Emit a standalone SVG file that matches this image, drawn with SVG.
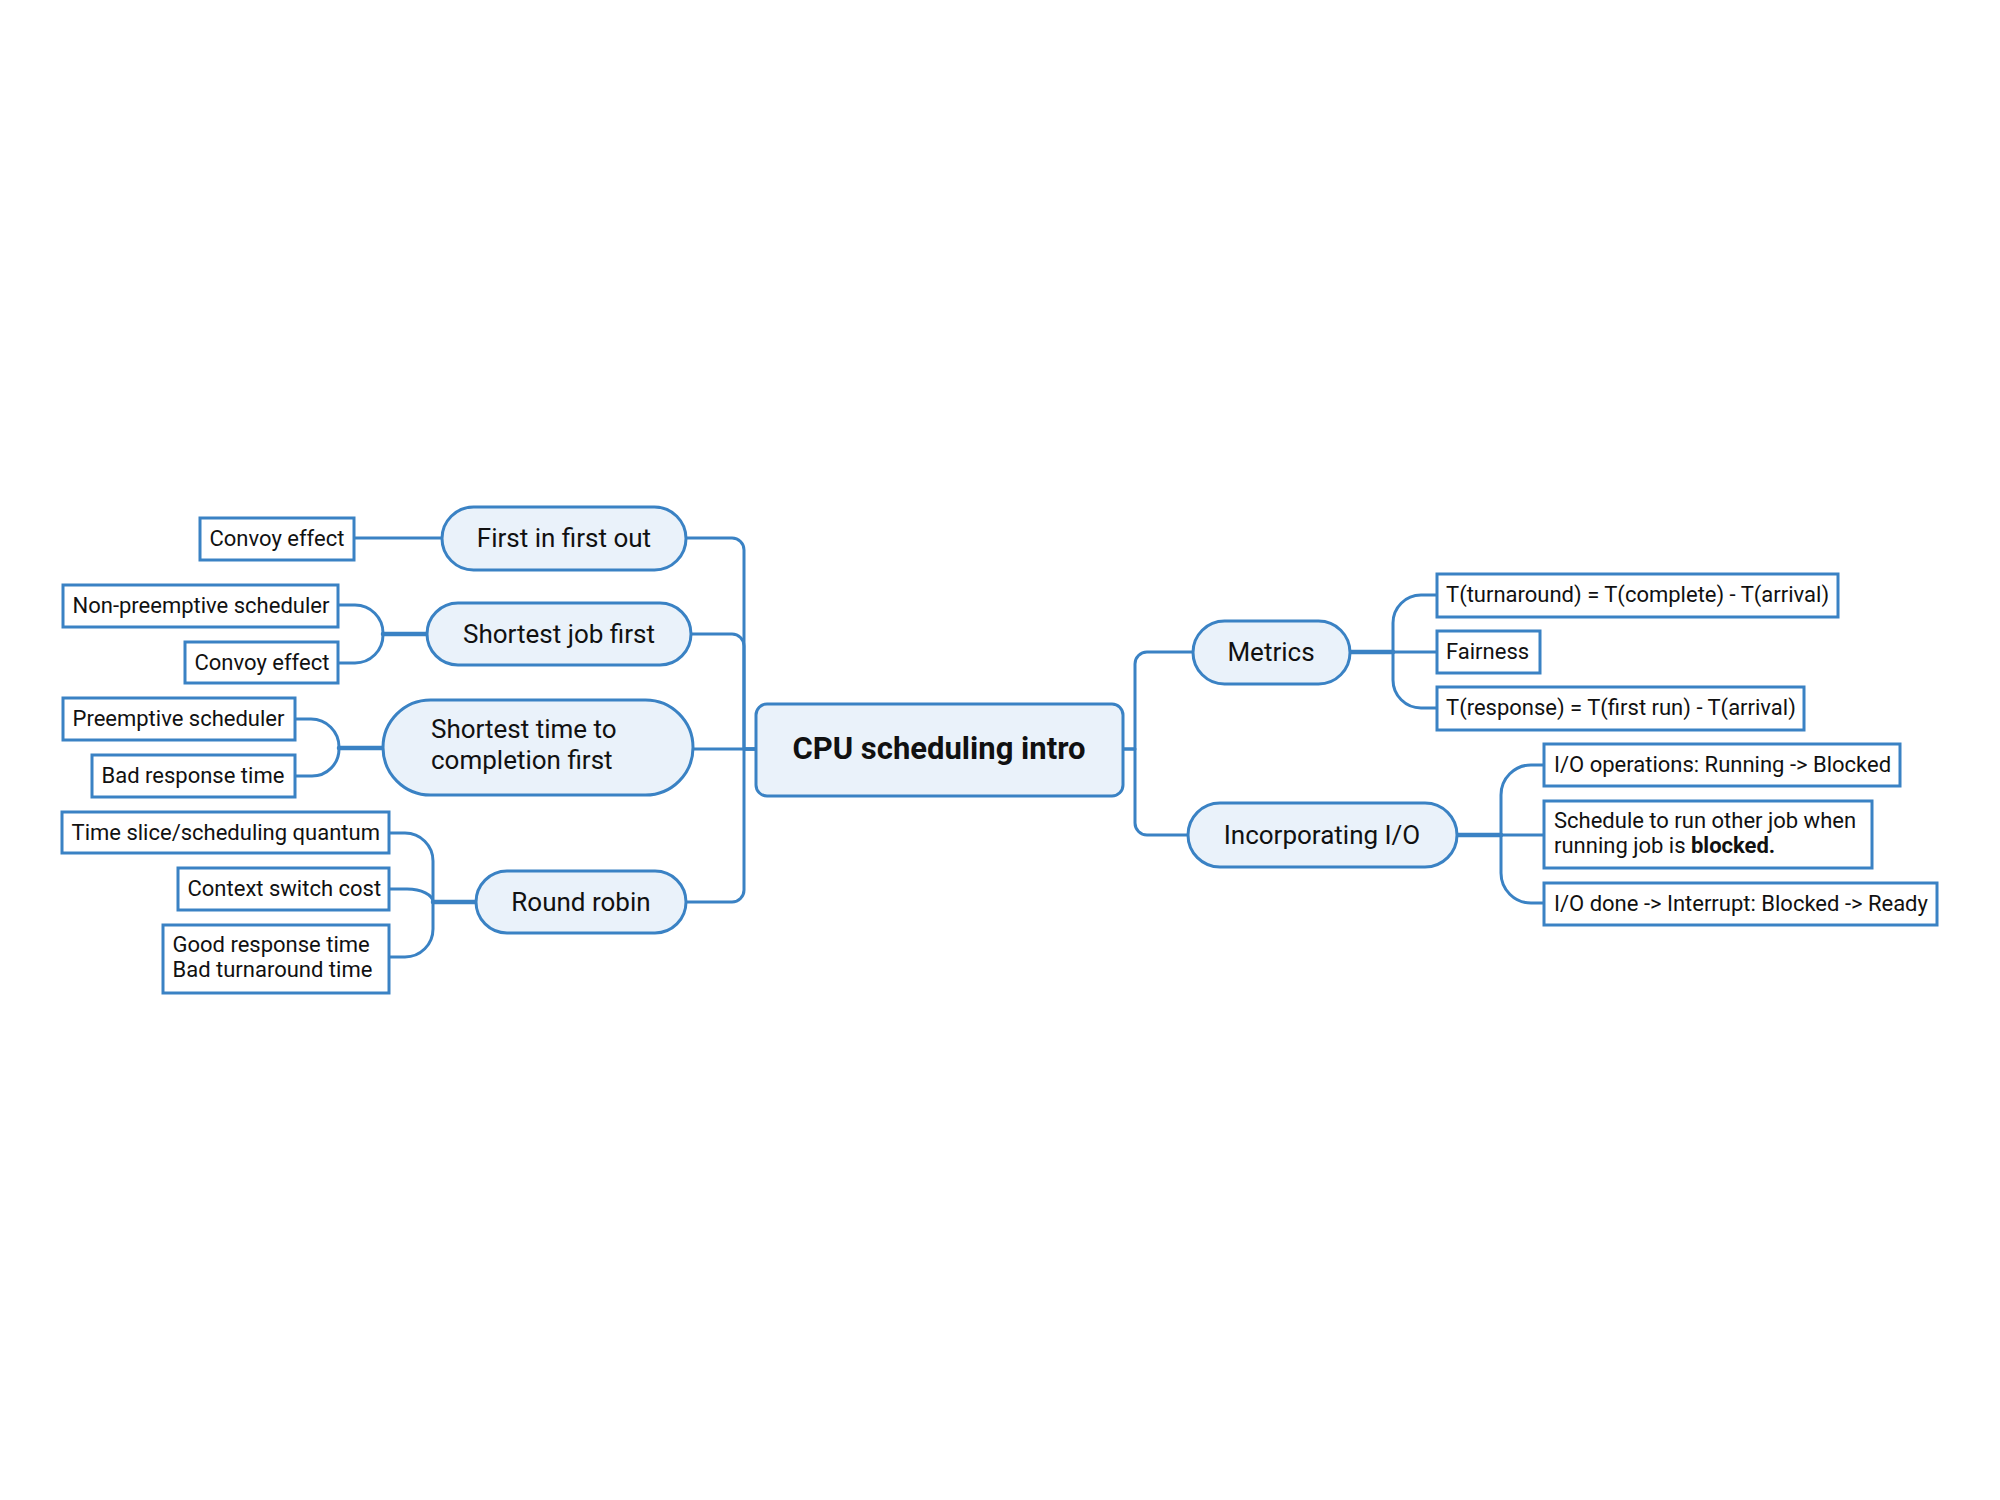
<svg xmlns="http://www.w3.org/2000/svg" width="2000" height="1500" viewBox="0 0 2000 1500">
  <style>
    .bg { fill: #ffffff; }
    .root rect { fill: #eaf2fa; stroke: #3a82c4; stroke-width: 3; }
    .topic rect { fill: #eaf2fa; stroke: #3a82c4; stroke-width: 3; }
    .leaf rect { fill: #ffffff; stroke: #3a82c4; stroke-width: 3; }
    .root text { font-family: Roboto, "Liberation Sans", sans-serif; font-size: 31px; font-weight: 700; fill: #111111; text-anchor: middle; }
    .topic text { font-family: Roboto, "Liberation Sans", sans-serif; font-size: 26px; fill: #111111; text-anchor: middle; }
    .topic text.left { text-anchor: start; }
    .leaf text { font-family: Roboto, "Liberation Sans", sans-serif; font-size: 22px; fill: #111111; }
    .links path { fill: none; stroke: #3a82c4; stroke-width: 3; stroke-linecap: round; stroke-linejoin: round; }
    .links path.stem { stroke-width: 4.5; }
  </style>
  <rect class="bg" x="0" y="0" width="2000" height="1500"/>

  <!-- connectors -->
  <g id="connectors" class="links">
    <!-- root to main topics, left side -->
    <path d="M756,749 H744 V550 A12,12 0 0 0 732,538 H686"/>
    <path d="M756,749 H744 V646 A12,12 0 0 0 732,634 H691"/>
    <path d="M756,749 H693"/>
    <path d="M756,749 H744 V890 A12,12 0 0 1 732,902 H686"/>
    <!-- root to main topics, right side -->
    <path d="M1123,749 H1135 V664 A12,12 0 0 1 1147,652 H1193"/>
    <path d="M1123,749 H1135 V823 A12,12 0 0 0 1147,835 H1188"/>

    <!-- First in first out -->
    <path d="M442,538 H354"/>

    <!-- Shortest job first -->
    <path class="stem" d="M427,634 H383"/>
    <path d="M383,634 V633 A28,28 0 0 0 355,605 H338"/>
    <path d="M383,634 V635 A28,28 0 0 1 355,663 H338"/>

    <!-- Shortest time to completion first -->
    <path class="stem" d="M383,748 H339"/>
    <path d="M339,748 V747 A28,28 0 0 0 311,719 H295"/>
    <path d="M339,748 V749 A27,27 0 0 1 312,776 H295"/>

    <!-- Round robin -->
    <path class="stem" d="M476,902 H433"/>
    <path d="M433,902 V861 A28,28 0 0 0 405,833 H389"/>
    <path d="M433,902 A26,13 0 0 0 407,889 H389"/>
    <path d="M433,902 V929 A28,28 0 0 1 405,957 H389"/>

    <!-- Metrics -->
    <path class="stem" d="M1350,652 H1393"/>
    <path d="M1393,652 V623 A28,28 0 0 1 1421,595 H1437"/>
    <path d="M1393,652 H1437"/>
    <path d="M1393,652 V680 A28,28 0 0 0 1421,708 H1437"/>

    <!-- Incorporating I/O -->
    <path class="stem" d="M1457,835 H1501"/>
    <path d="M1501,835 V795 A30,30 0 0 1 1531,765 H1544"/>
    <path d="M1501,835 H1544"/>
    <path d="M1501,835 V873 A30,30 0 0 0 1531,903 H1544"/>
  </g>

  <!-- central topic -->
  <g id="cpu-scheduling-intro" class="root">
    <rect x="756" y="704" width="367" height="92" rx="11"/>
    <text x="939" y="759">CPU scheduling intro</text>
  </g>

  <!-- main topics -->
  <g id="fifo" class="topic">
    <rect x="442" y="507" width="244" height="63" rx="31.5"/>
    <text x="564" y="547">First in first out</text>
  </g>
  <g id="sjf" class="topic">
    <rect x="427" y="603" width="264" height="62" rx="31"/>
    <text x="559" y="643">Shortest job first</text>
  </g>
  <g id="stcf" class="topic">
    <rect x="383" y="700" width="310" height="95" rx="47.5"/>
    <text class="left" x="431" y="738">Shortest time to</text>
    <text class="left" x="431" y="769">completion first</text>
  </g>
  <g id="round-robin" class="topic">
    <rect x="476" y="871" width="210" height="62" rx="31"/>
    <text x="581" y="911">Round robin</text>
  </g>
  <g id="metrics" class="topic">
    <rect x="1193" y="621" width="157" height="63" rx="31.5"/>
    <text x="1271" y="661">Metrics</text>
  </g>
  <g id="incorporating-io" class="topic">
    <rect x="1188" y="803" width="269" height="64" rx="32"/>
    <text x="1322" y="844">Incorporating I/O</text>
  </g>

  <!-- First in first out details -->
  <g id="fifo-convoy" class="leaf">
    <rect x="200" y="518" width="154" height="42"/>
    <text x="209.5" y="546">Convoy effect</text>
  </g>

  <!-- Shortest job first details -->
  <g id="sjf-nonpreemptive" class="leaf">
    <rect x="63" y="585" width="275" height="42"/>
    <text x="72.5" y="613">Non-preemptive scheduler</text>
  </g>
  <g id="sjf-convoy" class="leaf">
    <rect x="185" y="642" width="153" height="41"/>
    <text x="194.5" y="670">Convoy effect</text>
  </g>

  <!-- Shortest time to completion first details -->
  <g id="stcf-preemptive" class="leaf">
    <rect x="63" y="698" width="232" height="42"/>
    <text x="72.5" y="726">Preemptive scheduler</text>
  </g>
  <g id="stcf-response" class="leaf">
    <rect x="92" y="755" width="203" height="42"/>
    <text x="101.5" y="783">Bad response time</text>
  </g>

  <!-- Round robin details -->
  <g id="rr-quantum" class="leaf">
    <rect x="62" y="812" width="327" height="41"/>
    <text x="71.5" y="840">Time slice/scheduling quantum</text>
  </g>
  <g id="rr-context-switch" class="leaf">
    <rect x="178" y="868" width="211" height="42"/>
    <text x="187.5" y="896">Context switch cost</text>
  </g>
  <g id="rr-tradeoff" class="leaf">
    <rect x="163" y="925" width="226" height="68"/>
    <text x="172.5" y="952">Good response time</text>
    <text x="172.5" y="977">Bad turnaround time</text>
  </g>

  <!-- Metrics details -->
  <g id="metric-turnaround" class="leaf">
    <rect x="1437" y="574" width="401" height="43"/>
    <text x="1446" y="602">T(turnaround) = T(complete) - T(arrival)</text>
  </g>
  <g id="metric-fairness" class="leaf">
    <rect x="1437" y="631" width="103" height="42"/>
    <text x="1446" y="659">Fairness</text>
  </g>
  <g id="metric-response" class="leaf">
    <rect x="1437" y="687" width="367" height="43"/>
    <text x="1446" y="715">T(response) = T(first run) - T(arrival)</text>
  </g>

  <!-- Incorporating I/O details -->
  <g id="io-running-blocked" class="leaf">
    <rect x="1544" y="744" width="356" height="42"/>
    <text x="1554" y="772">I/O operations: Running -&gt; Blocked</text>
  </g>
  <g id="io-schedule-other" class="leaf">
    <rect x="1544" y="801" width="328" height="67"/>
    <text x="1554" y="828">Schedule to run other job when</text>
    <text x="1554" y="853">running job is <tspan font-weight="700">blocked.</tspan></text>
  </g>
  <g id="io-done-ready" class="leaf">
    <rect x="1544" y="883" width="393" height="42"/>
    <text x="1554" y="911">I/O done -&gt; Interrupt: Blocked -&gt; Ready</text>
  </g>
</svg>
